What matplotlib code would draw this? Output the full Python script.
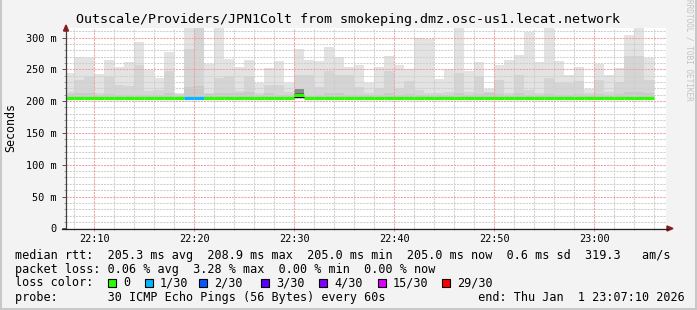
import matplotlib.pyplot as plt
import numpy as np
from matplotlib.lines import Line2D
from matplotlib.patches import Polygon, Rectangle

# one bin per minute, 22:07 .. 23:06 (first bin starts 22:07:10)
smoke_top = [244, 270, 268, 242, 265, 254, 261, 293, 249, 237,
             278, 213, 315, 315, 258, 315, 267, 253, 265, 229,
             252, 263, 229, 282, 265, 263, 285, 270, 253, 257,
             229, 253, 271, 257, 250, 300, 298, 235, 250, 315,
             248, 261, 219, 257, 265, 273, 309, 261, 315, 263,
             241, 254, 219, 258, 241, 252, 304, 315, 268]
smoke_mid = [215, 233, 238, 213, 238, 226, 224, 257, 216, 217,
             248, 211, 282, 315, 212, 236, 239, 216, 239, 212,
             226, 226, 214, 241, 241, 222, 248, 241, 241, 222,
             212, 220, 248, 220, 231, 218, 212, 212, 215, 245,
             215, 240, 214, 233, 212, 241, 217, 212, 237, 228,
             228, 231, 212, 234, 215, 230, 271, 271, 233]
smoke_low = [211, 212, 212, 210, 211, 210, 210, 210, 209, 209,
             212, 208, 222, 224, 211, 212, 213, 212, 214, 210,
             212, 210, 210, 219, 208, 210, 212, 212, 210, 210,
             209, 210, 212, 210, 211, 210, 210, 209, 210, 212,
             210, 211, 212, 211, 210, 212, 210, 210, 211, 210,
             210, 211, 209, 211, 210, 211, 214, 214, 212]
median = [205.3] * 59
median[23] = 208.9
lost = [0] * 59
lost[12] = 1
lost[13] = 1

loss_steps = ["0", "1/30", "2/30", "3/30", "4/30", "15/30", "29/30"]
loss_colors = ["#26ff00", "#00b8ff", "#0059ff", "#5e00ff", "#7e00ff", "#dd00ff", "#ff0000"]

x_ticks = [10, 20, 30, 40, 50, 60]
x_labels = ["22:10", "22:20", "22:30", "22:40", "22:50", "23:00"]
y_ticks = [0, 50, 100, 150, 200, 250, 300]
y_labels = ["0", "50 m", "100 m", "150 m", "200 m", "250 m", "300 m"]

legend_lines = [
    "median rtt:  205.3 ms avg  208.9 ms max  205.0 ms min  205.0 ms now  0.6 ms sd  319.3   am/s",
    "packet loss: 0.06 % avg  3.28 % max  0.00 % min  0.00 % now",
    "loss color:",
    "probe:       30 ICMP Echo Pings (56 Bytes) every 60s             end: Thu Jan  1 23:07:10 2026",
]

W, H = 697, 310
plt.rcParams["font.family"] = "DejaVu Sans Mono"

def fx(x):
    return x / W

def fy(y):
    return 1 - y / H

fig = plt.figure(figsize=(W / 100, H / 100), dpi=100)
fig.patch.set_facecolor("#f3f3f3")
ax = fig.add_axes([fx(66), fy(228.3), 600 / W, 200.3 / H])
ax.set_facecolor("white")

edges = np.array([7 + 10 / 60] + list(range(8, 67)), dtype=float)
base = 204.0

def smoke(vals, color, z):
    ys = np.append(vals, vals[-1])
    ax.fill_between(edges, base, ys, step="post", color=color, lw=0, zorder=z)

smoke(np.array(smoke_top), "#e3e3e3", 1)
smoke(np.array(smoke_mid), "#d5d5d5", 2)
smoke(np.array(smoke_low), "#c9c9c9", 3)

# darker knot at 22:30
k = 23
ax.fill_between(edges[k:k + 2], 205, [smoke_low[k]] * 2, step="post", color="#8a8a8a", lw=0, zorder=4)
ax.fill_between(edges[k:k + 2], 205, [212, 212], step="post", color="#5a5a5a", lw=0, zorder=4)

ax.set_xlim(7 + 10 / 60, 67 + 10 / 60)
ax.set_ylim(0, 315)

# grid
for v in range(10, 315, 10):
    if v % 50:
        ax.axhline(v, color="#cfcfcf", lw=0.75, ls=(0, (2, 1)), zorder=5)
for m in range(8, 68, 2):
    if m % 10:
        ax.axvline(m, color="#cfcfcf", lw=0.75, ls=(0, (2, 1)), zorder=5)
for v in range(50, 315, 50):
    ax.axhline(v, color="#f2a0a0", lw=0.75, ls=(0, (2, 1)), zorder=6)
for m in x_ticks:
    ax.axvline(m, color="#f2a0a0", lw=0.75, ls=(0, (2, 1)), zorder=6)

# median line coloured by loss
for i in range(59):
    c = loss_colors[lost[i]]
    ax.hlines(median[i], edges[i], edges[i + 1], colors=c, lw=2.3, zorder=8)
ax.hlines(206.3, edges[k], edges[k + 1], colors="black", lw=0.7, zorder=9)

for s in ax.spines.values():
    s.set_visible(False)

ax.set_yticks(y_ticks)
ax.set_yticklabels(y_labels)
ax.set_xticks(x_ticks)
ax.set_xticklabels(x_labels)
ax.set_yticks(range(0, 315, 10), minor=True)
ax.set_xticks(range(8, 68, 2), minor=True)
ax.tick_params(axis="y", which="major", length=3, width=0.7, color="#555555",
               labelsize=7.4, pad=4, direction="out")
ax.tick_params(axis="y", which="minor", length=1.5, width=0.7, color="#999999")
ax.tick_params(axis="x", which="major", length=2.5, width=0.7, color="#e07070",
               labelsize=7.4, pad=1.5)
ax.tick_params(axis="x", which="minor", length=1.5, width=0.7, color="#aaaaaa")

# axes with arrows
fig.add_artist(Line2D([fx(66), fx(66)], [fy(228.5), fy(30)], color="#404040", lw=0.9))
fig.add_artist(Line2D([fx(62), fx(668)], [fy(228.5), fy(228.5)], color="#202020", lw=0.9))
fig.add_artist(Polygon([[fx(63.5), fy(31)], [fx(68.5), fy(31)], [fx(66), fy(25)]],
                       closed=True, color="#8b1a1a", transform=fig.transFigure))
fig.add_artist(Polygon([[fx(667), fy(226)], [fx(667), fy(231)], [fx(673), fy(228.5)]],
                       closed=True, color="#8b1a1a", transform=fig.transFigure))

# frame
fig.add_artist(Line2D([fx(0.7), fx(0.7)], [0, 1], color="#c8c8c8", lw=1.5))
fig.add_artist(Line2D([fx(696.3), fx(696.3)], [0, 1], color="#c8c8c8", lw=1.5))
fig.add_artist(Line2D([0, 1], [fy(309.3), fy(309.3)], color="#c8c8c8", lw=1.5))

fig.text(fx(347.5), fy(19), "Outscale/Providers/JPN1Colt from smokeping.dmz.osc-us1.lecat.network",
         ha="center", va="center", fontsize=9.6)
fig.text(fx(11), fy(128), "Seconds", rotation=90, ha="center", va="center", fontsize=8.4)
fig.text(fx(689), fy(50), "RRDTOOL / TOBI OETIKER", rotation=270, ha="center", va="center",
         fontsize=5.6, color="#c4c4c4")

lf = 8.48
for y, s in zip([255, 269, 283, 297], legend_lines):
    fig.text(fx(15), fy(y), s, ha="left", va="center", fontsize=lf)

box_x = [108, 145, 199, 261, 319, 378, 442]
for bx, lab, c in zip(box_x, loss_steps, loss_colors):
    fig.add_artist(Rectangle((fx(bx), fy(287)), 8 / W, 8 / H, facecolor=c,
                             edgecolor="black", lw=0.8, transform=fig.transFigure))
    fig.text(fx(bx + 15), fy(283), lab, ha="left", va="center", fontsize=lf)

fig.savefig("out.png", dpi=100, facecolor=fig.get_facecolor())
